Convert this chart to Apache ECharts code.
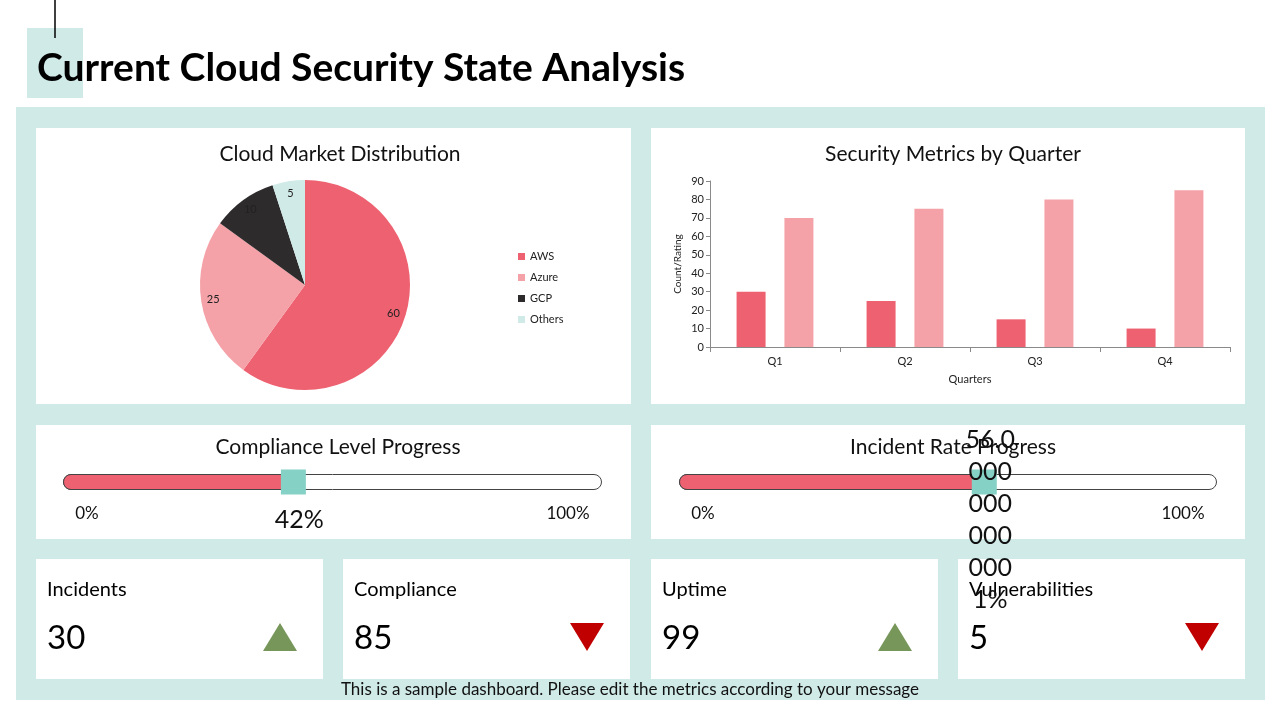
<!DOCTYPE html>
<html>
<head>
<meta charset="utf-8">
<title>Current Cloud Security State Analysis</title>
<script src="https://cdn.jsdelivr.net/npm/echarts@6/dist/echarts.min.js"></script>
<style>
  html, body { margin: 0; padding: 0; background: #fff; }
  #main { width: 1280px; height: 720px; }
</style>
</head>
<body>
<div id="main"></div>
<script>
// data
const pieNames = ['AWS', 'Azure', 'GCP', 'Others'];
const pieValues = [60, 25, 10, 5];
const quarters = ['Q1', 'Q2', 'Q3', 'Q4'];
const incidentCounts = [30, 25, 15, 10];
const complianceRatings = [70, 75, 80, 85];
const complianceLevel = 0.42;
const incidentRate = 0.56;
const kpiNames = ['Incidents', 'Compliance', 'Uptime', 'Vulnerabilities'];
const kpiValues = [30, 85, 99, 5];
const kpiTrends = ['up', 'down', 'up', 'down'];

const FONT = 'Lato, "Noto Sans", sans-serif';
const RED = '#ee6170';
const PINK = '#f4a1a7';
const DARK = '#2e2b2d';
const TEAL_LIGHT = '#cfeae7';
const TEAL = '#86d1c6';

const chart = echarts.init(document.getElementById('main'));

// card layout
const kpiX = [36, 343, 651, 958];
const cards = [
    [36, 128, 595, 276], [651, 128, 594, 276],
    [36, 425, 595, 114], [651, 425, 594, 114]
];
kpiX.forEach(function (x) { cards.push([x, 559, 287, 120]); });

const graphics = [
    { type: 'rect', z: -20, shape: { x: 16, y: 107, width: 1249, height: 593 }, style: { fill: TEAL_LIGHT } },
    { type: 'rect', z: -20, shape: { x: 27, y: 28, width: 56, height: 70 }, style: { fill: TEAL_LIGHT } },
    { type: 'line', z: -20, shape: { x1: 55, y1: 0, x2: 55, y2: 38 }, style: { stroke: '#000', lineWidth: 1.5 } },
    { type: 'text', z: -10, x: 37, y: 68, style: { text: 'Current Cloud Security State Analysis', font: 'bold 39px ' + FONT, fill: '#000', verticalAlign: 'middle' } },
    { type: 'text', z: -10, x: 630, y: 690, style: { text: 'This is a sample dashboard. Please edit the metrics according to your message', font: '17px ' + FONT, fill: '#111', align: 'center', verticalAlign: 'middle' } }
];
cards.forEach(function (c) {
    graphics.push({ type: 'rect', z: -15, shape: { x: c[0], y: c[1], width: c[2], height: c[3] }, style: { fill: '#fff' } });
});

// progress labels
[[63, 602], [679, 1217]].forEach(function (b) {
    graphics.push({ type: 'text', z: -10, x: b[0] + 24, y: 514, style: { text: '0%', font: '17px ' + FONT, fill: '#111', align: 'center', verticalAlign: 'middle' } });
    graphics.push({ type: 'text', z: -10, x: b[1] - 34, y: 514, style: { text: '100%', font: '17px ' + FONT, fill: '#111', align: 'center', verticalAlign: 'middle' } });
});

// kpi cards
kpiNames.forEach(function (name, i) {
    const x = kpiX[i];
    graphics.push({ type: 'text', z: -10, x: x + 11, y: 590, style: { text: name, font: '20px ' + FONT, fill: '#000', verticalAlign: 'middle' } });
    graphics.push({ type: 'text', z: -10, x: x + 11, y: 638, style: { text: String(kpiValues[i]), font: '33px ' + FONT, fill: '#000', verticalAlign: 'middle' } });
    const tx = x + 244;
    const pts = kpiTrends[i] === 'up'
        ? [[tx - 17, 651], [tx + 17, 651], [tx, 623]]
        : [[tx - 17, 623], [tx + 17, 623], [tx, 651]];
    graphics.push({ type: 'polygon', z: -10, shape: { points: pts }, style: { fill: kpiTrends[i] === 'up' ? '#77965a' : '#c00000' } });
});

function pctLabel(v) {
    return String(v * 100) + '%';
}

function progressSeries(idx, value) {
    return [
        { type: 'bar', xAxisIndex: idx, yAxisIndex: idx, data: [100], barWidth: 16, barGap: '-100%', silent: true,
          itemStyle: { color: '#fff', borderColor: '#444', borderWidth: 1, borderRadius: 8 } },
        { type: 'bar', xAxisIndex: idx, yAxisIndex: idx, data: [value * 100], barWidth: 16, barGap: '-100%', silent: true,
          itemStyle: { color: RED, borderColor: '#444', borderWidth: 1, borderRadius: [8, 0, 0, 8] } },
        { type: 'scatter', xAxisIndex: idx, yAxisIndex: idx, data: [[value * 100, 0]], symbol: 'rect', symbolSize: 25,
          symbolOffset: [4, 0],
          itemStyle: { color: TEAL, opacity: 1 }, z: 5,
          label: { show: true, position: 'inside', offset: [6, 38], formatter: function () { return pctLabel(value); },
                   width: 52, overflow: 'breakAll', lineHeight: 32, fontSize: 25, fontFamily: FONT, color: '#111' } }
    ];
}

const hiddenValueAxis = function (grid) {
    return { type: 'value', gridIndex: grid, min: 0, max: 100, show: false };
};
const hiddenCatAxis = function (grid) {
    return { type: 'category', gridIndex: grid, data: ['p'], show: false };
};

const titleStyle = { fontSize: 21, fontWeight: 'normal', color: '#111', fontFamily: FONT };

const option = {
    backgroundColor: '#fff',
    animation: false,
    textStyle: { fontFamily: FONT },
    title: [
        { text: 'Cloud Market Distribution', left: 335, top: 139, textAlign: 'center', textStyle: titleStyle },
        { text: 'Security Metrics by Quarter', left: 948, top: 139, textAlign: 'center', textStyle: titleStyle },
        { text: 'Compliance Level Progress', left: 333, top: 432, textAlign: 'center', textStyle: titleStyle },
        { text: 'Incident Rate Progress', left: 948, top: 432, textAlign: 'center', textStyle: titleStyle }
    ],
    legend: {
        data: pieNames, orient: 'vertical', left: 513, top: 246, itemWidth: 7, itemHeight: 7, itemGap: 10,
        icon: 'rect', textStyle: { fontSize: 11, color: '#222', fontFamily: FONT }
    },
    grid: [
        { left: 710, right: 50, top: 181, bottom: 373 },
        { left: 63, width: 539, top: 474, height: 16 },
        { left: 679, width: 538, top: 474, height: 16 }
    ],
    xAxis: [
        {
            type: 'category', gridIndex: 0, data: quarters,
            name: 'Quarters', nameLocation: 'middle', nameGap: 27,
            nameTextStyle: { fontSize: 11, color: '#222' },
            axisLine: { lineStyle: { color: '#8a8a8a' } },
            axisTick: { show: true, length: 5, lineStyle: { color: '#8a8a8a' } },
            axisLabel: { fontSize: 11, color: '#222', margin: 9 }
        },
        hiddenValueAxis(1),
        hiddenValueAxis(2)
    ],
    yAxis: [
        {
            type: 'value', gridIndex: 0, min: 0, max: 90, interval: 10,
            name: 'Count/Rating', nameLocation: 'middle', nameGap: 27, nameRotate: 90,
            nameTextStyle: { fontSize: 10, color: '#222' },
            axisLine: { show: true, lineStyle: { color: '#8a8a8a' } },
            axisTick: { show: true, length: 4, lineStyle: { color: '#8a8a8a' } },
            axisLabel: { fontSize: 11, color: '#222', margin: 6 },
            splitLine: { show: false }
        },
        hiddenCatAxis(1),
        hiddenCatAxis(2)
    ],
    series: [
        {
            type: 'pie', center: [305, 285], radius: 105, startAngle: 90, clockwise: true,
            color: [RED, PINK, DARK, TEAL_LIGHT],
            data: pieNames.map(function (n, i) { return { name: n, value: pieValues[i] }; }),
            label: { show: false }, labelLine: { show: false }, emphasis: { disabled: true }
        },
        {
            type: 'pie', center: [305, 285], radius: [75, 105], startAngle: 90, clockwise: true, silent: true,
            data: pieNames.map(function (n, i) { return { name: n, value: pieValues[i] }; }),
            itemStyle: { color: 'rgba(0,0,0,0)' },
            label: { show: true, position: 'inside', formatter: '{c}', fontSize: 11, color: '#222', fontFamily: FONT },
            labelLine: { show: false }, emphasis: { disabled: true }
        },
        {
            type: 'bar', name: 'Incidents', xAxisIndex: 0, yAxisIndex: 0, data: incidentCounts,
            barWidth: 29, barGap: '65%', itemStyle: { color: RED }
        },
        {
            type: 'bar', name: 'Compliance Rating', xAxisIndex: 0, yAxisIndex: 0, data: complianceRatings,
            barWidth: 29, barGap: '65%', itemStyle: { color: PINK }
        }
    ].concat(progressSeries(1, complianceLevel), progressSeries(2, incidentRate)),
    graphic: graphics
};

chart.setOption(option);
</script>
</body>
</html>
